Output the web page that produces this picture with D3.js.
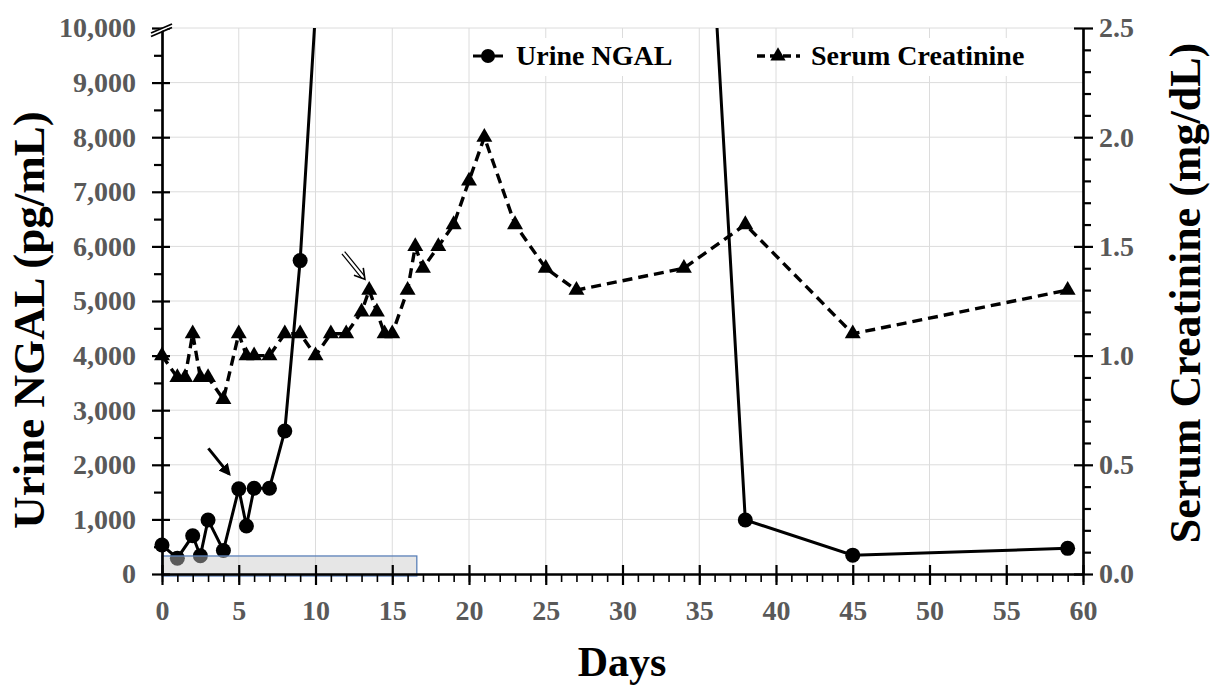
<!DOCTYPE html>
<html lang="en">
<head>
  <meta charset="UTF-8">
  <title>Urine NGAL and Serum Creatinine</title>
  <script src="https://d3js.org/d3.v7.min.js"></script>
  <style>
    body { margin: 0; background: #fff; }
    svg { display: block; font-family: "Liberation Serif", "Times New Roman", serif; font-weight: bold; }
    .tick text { fill: #595959; font-family: "Liberation Serif", "Times New Roman", serif; font-size: 28px; font-weight: bold; }
  </style>
</head>
<body>
  <div id="chart"></div>

  <script>
    // Urine NGAL (pg/mL), left axis
    const ngalDays   = [0, 1, 2, 2.5, 3, 4, 5, 5.5, 6, 7, 8, 9, 23.5, 38, 45, 59];
    const ngalValues = [530, 290, 700, 335, 990, 430, 1560, 880, 1570, 1570, 2620, 5740, 72000, 990, 345, 470];

    // Serum creatinine (mg/dL), right axis
    const creatDays   = [0, 1, 1.5, 2, 2.5, 3, 4, 5, 5.5, 6, 7, 8, 9, 10, 11, 12, 13, 13.5, 14, 14.5, 15,
                         16, 16.5, 17, 18, 19, 20, 21, 23, 25, 27, 34, 38, 45, 59];
    const creatValues = [1.0, 0.9, 0.9, 1.1, 0.9, 0.9, 0.8, 1.1, 1.0, 1.0, 1.0, 1.1, 1.1, 1.0, 1.1, 1.1, 1.2, 1.3, 1.2, 1.1, 1.1,
                         1.3, 1.5, 1.4, 1.5, 1.6, 1.8, 2.0, 1.6, 1.4, 1.3, 1.4, 1.6, 1.1, 1.3];

    const xTicks = d3.range(0, 61, 5);
    const leftTicks = d3.range(0, 10001, 1000);
    const rightTicks = [0, 0.5, 1.0, 1.5, 2.0, 2.5];

    // shaded period (days) and its height on NGAL scale
    const shadedDays = [0, 16.6];
    const shadedNgal = [0, 330];

    const width = 1211, height = 685;

    const svg = d3.select("#chart").append("svg")
      .attr("width", width)
      .attr("height", height);

    const x = d3.scaleLinear().domain([0, 60]).range([162, 1083]);
    const yL = d3.scaleLinear().domain([0, 10000]).range([574, 28]);
    const yR = d3.scaleLinear().domain([0, 2.5]).range([574, 28]);

    // grid
    const grid = svg.append("g").attr("stroke", "#dcdcdc").attr("stroke-width", 1);
    grid.selectAll(".gx").data(xTicks.slice(1, -1)).join("line")
      .attr("x1", d => x(d)).attr("x2", d => x(d))
      .attr("y1", yL(10000)).attr("y2", yL(0));
    grid.selectAll(".gy").data(leftTicks.slice(1)).join("line")
      .attr("x1", x(0)).attr("x2", x(60))
      .attr("y1", d => yL(d)).attr("y2", d => yL(d));

    svg.append("clipPath").attr("id", "clip")
      .append("rect").attr("x", 140).attr("y", yL(10000)).attr("width", 980).attr("height", 600);

    const ngal = ngalDays.map((d, i) => ({ day: d, v: ngalValues[i] }));
    const creat = creatDays.map((d, i) => ({ day: d, v: creatValues[i] }));

    // creatinine dashed line
    svg.append("path")
      .datum(creat)
      .attr("fill", "none")
      .attr("stroke", "#000")
      .attr("stroke-width", 3.4)
      .attr("stroke-dasharray", "10,6")
      .attr("d", d3.line().x(d => x(d.day)).y(d => yR(d.v)));

    // NGAL solid line, clipped at 10,000
    svg.append("path")
      .datum(ngal)
      .attr("clip-path", "url(#clip)")
      .attr("fill", "none")
      .attr("stroke", "#000")
      .attr("stroke-width", 3)
      .attr("d", d3.line().x(d => x(d.day)).y(d => yL(d.v)));

    svg.selectAll(".tri").data(creat).join("path")
      .attr("transform", d => `translate(${x(d.day)},${yR(d.v)})`)
      .attr("d", d3.symbol(d3.symbolTriangle, 110))
      .attr("fill", "#000");

    svg.selectAll(".dot").data(ngal.filter(d => d.v <= 10000)).join("circle")
      .attr("cx", d => x(d.day))
      .attr("cy", d => yL(d.v))
      .attr("r", 7.5)
      .attr("fill", "#000");

    // shaded box
    svg.append("rect")
      .attr("x", x(shadedDays[0]))
      .attr("y", yL(shadedNgal[1]))
      .attr("width", x(shadedDays[1]) - x(shadedDays[0]))
      .attr("height", yL(shadedNgal[0]) - yL(shadedNgal[1]) + 2)
      .attr("fill", "rgba(200,200,200,0.45)")
      .attr("stroke", "#5b80b8")
      .attr("stroke-width", 1.3);

    // arrows
    const defs = svg.append("defs");
    defs.append("marker").attr("id", "head")
      .attr("viewBox", "0 0 10 10").attr("refX", 8).attr("refY", 5)
      .attr("markerWidth", 4).attr("markerHeight", 4).attr("orient", "auto")
      .append("path").attr("d", "M0,0L10,5L0,10z").attr("fill", "#000");

    svg.append("line")
      .attr("x1", x(3.02)).attr("y1", yL(2300))
      .attr("x2", x(4.38)).attr("y2", yL(1830))
      .attr("stroke", "#000").attr("stroke-width", 3)
      .attr("marker-end", "url(#head)");

    // open double-line arrow
    {
      const x1 = x(11.81), y1 = yL(5885), x2 = x(13.22), y2 = yL(5397);
      const dx = x2 - x1, dy = y2 - y1, len = Math.hypot(dx, dy);
      const ux = dx / len, uy = dy / len, px = -uy, py = ux;
      const g = svg.append("g").attr("stroke", "#000").attr("stroke-width", 1.2).attr("fill", "none");
      [-1.8, 1.8].forEach(o => {
        g.append("line")
          .attr("x1", x1 + px * o).attr("y1", y1 + py * o)
          .attr("x2", x2 - ux * 3 + px * o).attr("y2", y2 - uy * 3 + py * o);
      });
      const hl = 10, hw = 6;
      g.append("path").attr("d",
        `M${x2 - ux * hl + px * hw},${y2 - uy * hl + py * hw}L${x2},${y2}L${x2 - ux * hl - px * hw},${y2 - uy * hl - py * hw}`)
        .attr("stroke-width", 1.6);
    }

    // axes
    function styleAxis(g) {
      g.attr("font-family", null);
      g.select(".domain").attr("stroke", "#000").attr("stroke-width", 2.2);
      g.selectAll(".tick line").attr("stroke", "#000").attr("stroke-width", 2.2);
    }

    svg.append("g")
      .attr("transform", `translate(0,${yL(0)})`)
      .call(d3.axisBottom(x).tickValues(d3.range(0, 61, 1)).tickSize(8).tickSizeOuter(0).tickFormat(""))
      .call(styleAxis)
      .call(g => g.selectAll(".tick line").attr("stroke-width", 1.6));

    svg.append("g")
      .attr("transform", `translate(0,${yL(0)})`)
      .call(d3.axisBottom(x).tickValues(xTicks).tickSize(11).tickSizeOuter(0).tickPadding(15))
      .call(styleAxis)
      .call(g => g.selectAll(".tick line").attr("y1", -9));

    svg.append("g")
      .attr("transform", `translate(${x(0)},0)`)
      .call(d3.axisLeft(yL).tickValues(d3.range(500, 10000, 1000)).tickSize(8).tickSizeOuter(0).tickFormat(""))
      .call(styleAxis);

    svg.append("g")
      .attr("transform", `translate(${x(0)},0)`)
      .call(d3.axisLeft(yL).tickValues(leftTicks).tickSize(10).tickSizeOuter(0).tickPadding(16).tickFormat(d3.format(",")))
      .call(styleAxis)
      .call(g => g.selectAll(".tick line").attr("x1", 8));

    svg.append("g")
      .attr("transform", `translate(${x(60)},0)`)
      .call(d3.axisRight(yR).tickValues(d3.range(0.1, 2.5, 0.1).filter((d, i) => (i + 1) % 5 !== 0)).tickSize(8).tickSizeOuter(0).tickFormat(""))
      .call(styleAxis);

    svg.append("g")
      .attr("transform", `translate(${x(60)},0)`)
      .call(d3.axisRight(yR).tickValues(rightTicks).tickSize(10).tickSizeOuter(0).tickPadding(6).tickFormat(d3.format(".1f")))
      .call(styleAxis)
      .call(g => g.selectAll(".tick line").attr("x1", -9));

    // axis break mark
    const bx = x(0), by = yL(10000);
    svg.append("path")
      .attr("d", `M${bx - 10},${by + 4}L${bx + 9},${by - 4}L${bx + 9},${by - 1}L${bx - 10},${by + 7}z`)
      .attr("fill", "#fff");
    svg.append("g").attr("stroke", "#000").attr("stroke-width", 1.8)
      .selectAll("line").data([0, 3.5]).join("line")
      .attr("x1", bx - 11).attr("y1", d => by + 5 + d)
      .attr("x2", bx + 10).attr("y2", d => by - 4 + d);

    // legend
    const legend = svg.append("g");
    const lg1 = legend.append("g");
    lg1.append("rect").attr("x", 508).attr("y", 38).attr("width", 175).attr("height", 38).attr("fill", "#fff");
    lg1.append("line").attr("x1", 473).attr("x2", 503).attr("y1", 56).attr("y2", 56)
      .attr("stroke", "#000").attr("stroke-width", 3);
    lg1.append("circle").attr("cx", 488).attr("cy", 56).attr("r", 7).attr("fill", "#000");
    lg1.append("text").attr("x", 516).attr("y", 65).attr("font-size", 28).attr("fill", "#000").text("Urine NGAL");

    const lg2 = legend.append("g");
    lg2.append("rect").attr("x", 806).attr("y", 38).attr("width", 228).attr("height", 38).attr("fill", "#fff");
    lg2.append("line").attr("x1", 757).attr("x2", 800).attr("y1", 56).attr("y2", 56)
      .attr("stroke", "#000").attr("stroke-width", 3.4).attr("stroke-dasharray", "8,5");
    lg2.append("path").attr("transform", "translate(778,56)")
      .attr("d", d3.symbol(d3.symbolTriangle, 100)).attr("fill", "#000");
    lg2.append("text").attr("x", 811).attr("y", 65).attr("font-size", 28).attr("fill", "#000").text("Serum Creatinine");

    // titles
    svg.append("text")
      .attr("transform", "translate(44,320) rotate(-90)")
      .attr("text-anchor", "middle").attr("font-size", 45).attr("fill", "#000")
      .text("Urine NGAL (pg/mL)");

    svg.append("text")
      .attr("transform", "translate(1200,293) rotate(-90)")
      .attr("text-anchor", "middle").attr("font-size", 44).attr("fill", "#000")
      .text("Serum Creatinine (mg/dL)");

    svg.append("text")
      .attr("x", 622).attr("y", 676)
      .attr("text-anchor", "middle").attr("font-size", 42).attr("fill", "#000")
      .text("Days");
  </script>
</body>
</html>
